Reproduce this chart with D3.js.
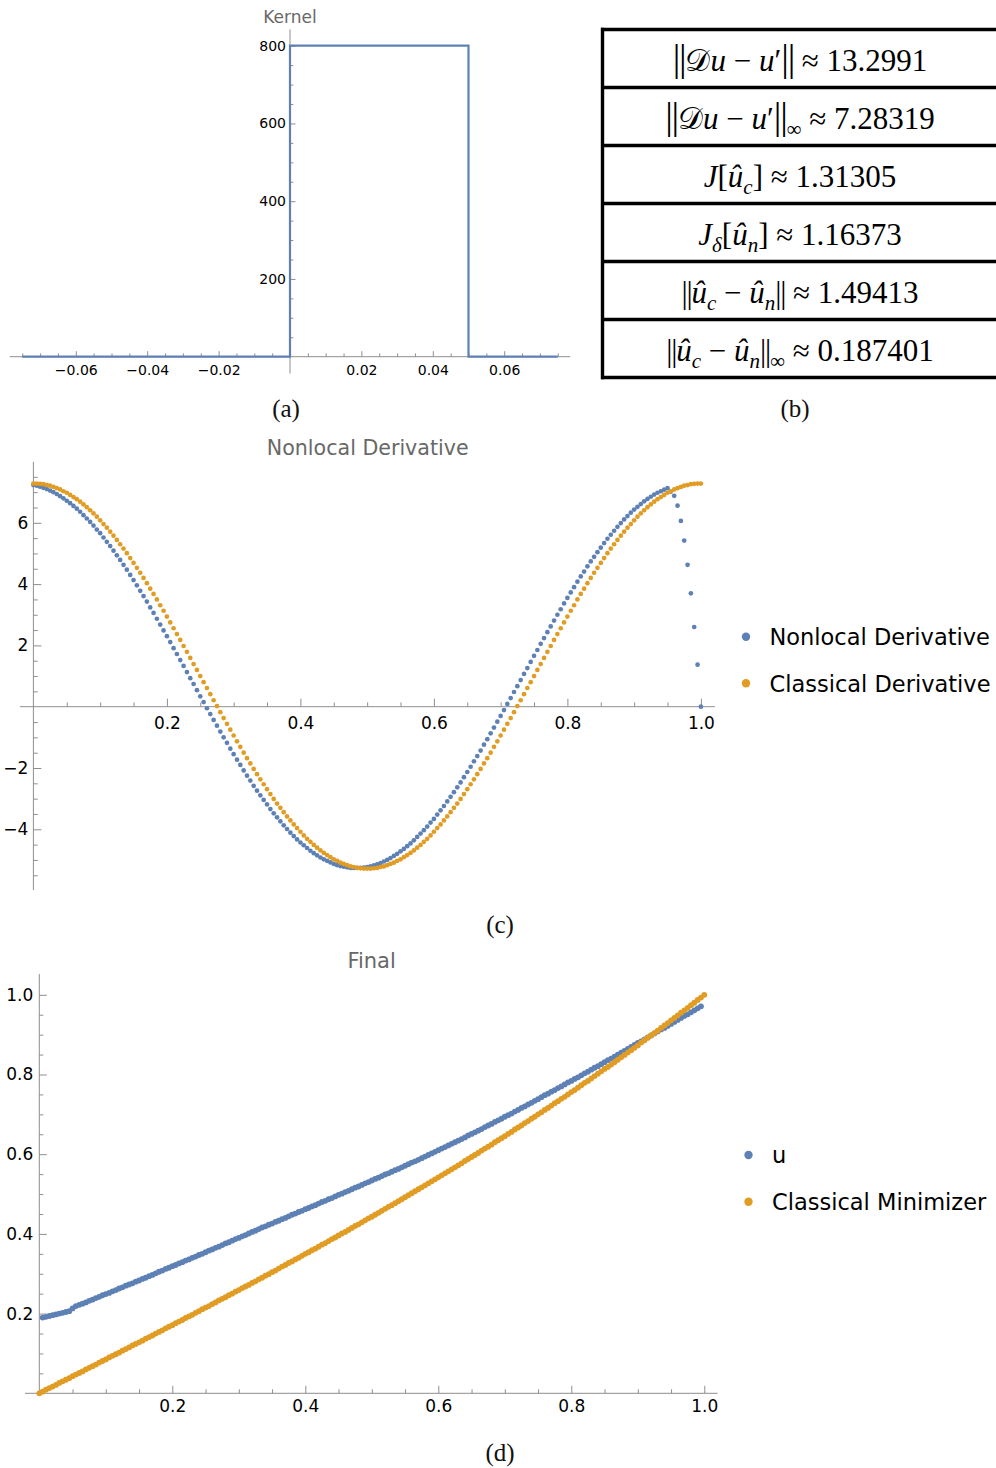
<!DOCTYPE html>
<html><head><meta charset="utf-8">
<script src="https://cdn.jsdelivr.net/npm/d3@7"></script>
<style>
html,body{margin:0;padding:0;background:#fff;}
svg{display:block;}
</style></head>
<body>
<svg id="fig" width="996" height="1468"></svg>
<script>
// ---------- data ----------
// (a) step kernel
const kernelX = [-0.075, 0, 0, 0.05, 0.05, 0.075];
const kernelY = [0, 0, 800, 800, 0, 0];
const kernelXTicks = [-0.06, -0.04, -0.02, 0.02, 0.04, 0.06];
const kernelYTicks = [200, 400, 600, 800];

// (b) error table
const tableValues = ['13.2991', '7.28319', '1.31305', '1.16373', '1.49413', '0.187401'];

// shared sample grid on [0,1]
const gridX = d3.range(201).map(i => i / 200);

// (c) derivatives
const derivSeries = ['Nonlocal Derivative', 'Classical Derivative'];
const nonlocalDeriv = [
7.23,7.21,7.18,7.14,7.10,7.05,7.00,6.94,6.87,6.80,
6.72,6.64,6.55,6.46,6.36,6.25,6.14,6.03,5.91,5.78,
5.66,5.52,5.38,5.24,5.09,4.94,4.79,4.63,4.47,4.30,
4.13,3.96,3.78,3.61,3.43,3.24,3.06,2.87,2.68,2.49,
2.30,2.11,1.91,1.72,1.52,1.33,1.13,0.93,0.74,0.54,
0.34,0.15,-0.05,-0.24,-0.43,-0.62,-0.81,-1.00,-1.18,-1.37,
-1.55,-1.73,-1.90,-2.08,-2.25,-2.41,-2.58,-2.74,-2.89,-3.04,
-3.19,-3.34,-3.48,-3.61,-3.74,-3.87,-3.99,-4.11,-4.22,-4.33,
-4.43,-4.52,-4.61,-4.70,-4.78,-4.85,-4.92,-4.98,-5.03,-5.08,
-5.13,-5.17,-5.20,-5.22,-5.24,-5.26,-5.26,-5.26,-5.26,-5.25,
-5.23,-5.21,-5.18,-5.14,-5.10,-5.05,-5.00,-4.94,-4.87,-4.80,
-4.72,-4.64,-4.55,-4.46,-4.36,-4.25,-4.14,-4.03,-3.91,-3.78,
-3.66,-3.52,-3.38,-3.24,-3.09,-2.94,-2.79,-2.63,-2.47,-2.30,
-2.13,-1.96,-1.78,-1.61,-1.43,-1.24,-1.06,-0.87,-0.68,-0.49,
-0.30,-0.11,0.09,0.28,0.48,0.67,0.87,1.07,1.26,1.46,
1.66,1.85,2.05,2.24,2.43,2.62,2.81,3.00,3.18,3.37,
3.55,3.73,3.90,4.08,4.25,4.41,4.58,4.74,4.89,5.04,
5.19,5.34,5.48,5.61,5.74,5.87,5.99,6.11,6.22,6.33,
6.43,6.52,6.61,6.70,6.78,6.85,6.92,6.98,7.03,7.08,
7.13,7.02,6.88,6.56,6.06,5.42,4.63,3.70,2.60,1.37,
0.00];
const classicalDeriv = [
7.28,7.28,7.27,7.26,7.23,7.21,7.17,7.13,7.09,7.03,
6.98,6.91,6.84,6.77,6.69,6.60,6.51,6.41,6.31,6.20,
6.08,5.96,5.84,5.71,5.58,5.44,5.30,5.16,5.01,4.85,
4.69,4.53,4.37,4.20,4.03,3.85,3.68,3.50,3.31,3.13,
2.94,2.75,2.56,2.37,2.18,1.98,1.79,1.59,1.39,1.20,
1.00,0.80,0.61,0.41,0.21,0.02,-0.18,-0.37,-0.56,-0.75,
-0.94,-1.13,-1.31,-1.50,-1.68,-1.85,-2.03,-2.20,-2.37,-2.53,
-2.69,-2.85,-3.01,-3.16,-3.30,-3.44,-3.58,-3.71,-3.84,-3.96,
-4.08,-4.20,-4.31,-4.41,-4.51,-4.60,-4.69,-4.77,-4.84,-4.91,
-4.98,-5.03,-5.09,-5.13,-5.17,-5.21,-5.23,-5.26,-5.27,-5.28,
-5.28,
-5.28,-5.27,-5.26,-5.23,-5.21,-5.17,-5.13,-5.09,-5.03,-4.98,
-4.91,-4.84,-4.77,-4.69,-4.60,-4.51,-4.41,-4.31,-4.20,-4.08,
-3.96,-3.84,-3.71,-3.58,-3.44,-3.30,-3.16,-3.01,-2.85,-2.69,
-2.53,-2.37,-2.20,-2.03,-1.85,-1.68,-1.50,-1.31,-1.13,-0.94,
-0.75,-0.56,-0.37,-0.18,0.02,0.21,0.41,0.61,0.80,1.00,
1.20,1.39,1.59,1.79,1.98,2.18,2.37,2.56,2.75,2.94,
3.13,3.31,3.50,3.68,3.85,4.03,4.20,4.37,4.53,4.69,
4.85,5.01,5.16,5.30,5.44,5.58,5.71,5.84,5.96,6.08,
6.20,6.31,6.41,6.51,6.60,6.69,6.77,6.84,6.91,6.98,
7.03,7.09,7.13,7.17,7.21,7.23,7.26,7.27,7.28,7.28];
const derivXTicks = [0.2, 0.4, 0.6, 0.8, 1.0];
const derivYTicks = [-4, -2, 2, 4, 6];

// (d) final states: nonlocal u on interior nodes, classical minimizer on all nodes
const finalSeries = ['u', 'Classical Minimizer'];
const uNonlocal = [
0.190,0.192,0.194,0.196,0.198,0.200,0.202,0.204,0.206,0.213,0.219,0.222,
0.225,0.228,0.232,0.235,0.239,0.242,0.246,0.249,0.252,0.256,0.259,0.263,0.266,0.270,
0.273,0.276,0.280,0.283,0.287,0.290,0.294,0.297,0.301,0.305,0.308,0.312,0.315,0.319,
0.322,0.326,0.329,0.333,0.336,0.340,0.343,0.347,0.350,0.354,
0.358,0.361,0.365,0.368,0.372,0.376,0.379,0.383,0.387,0.390,
0.394,0.397,0.401,0.405,0.408,0.412,0.416,0.419,0.423,0.426,
0.430,0.433,0.437,0.440,0.444,0.448,0.451,0.455,0.458,0.462,
0.465,0.469,0.472,0.476,0.480,0.483,0.487,0.490,0.494,0.498,
0.501,0.505,0.508,0.512,0.516,0.519,0.523,0.527,0.530,0.534,
0.538,0.541,0.545,0.549,0.552,0.556,0.560,0.563,0.567,0.571,
0.575,0.579,0.582,0.586,0.590,0.594,0.598,0.602,0.606,0.610,
0.614,0.618,0.622,0.626,0.630,0.634,0.638,0.642,0.647,0.651,
0.655,0.659,0.663,0.668,0.672,0.676,0.681,0.685,0.689,0.694,
0.698,0.702,0.707,0.711,0.716,0.720,0.725,0.729,0.734,0.738,
0.743,0.748,0.752,0.757,0.761,0.766,0.770,0.775,0.780,0.784,
0.789,0.793,0.798,0.803,0.807,0.812,0.817,0.821,0.826,0.831,
0.836,0.840,0.845,0.850,0.855,0.859,0.864,0.869,0.874,0.879,
0.883,0.888,0.893,0.898,0.903,0.908,0.913,0.917,0.922,0.927,
0.932,0.937,0.942,0.947,0.951,0.956,0.961,0.966,0.971];
const uClassical = [
0.000,0.004,0.009,0.013,0.017,0.021,0.026,0.030,0.034,0.038,0.043,
0.047,0.051,0.055,0.060,0.064,0.068,0.072,0.077,0.081,0.085,
0.090,0.094,0.098,0.102,0.107,0.111,0.115,0.120,0.124,0.128,
0.132,0.137,0.141,0.145,0.150,0.154,0.158,0.163,0.167,0.171,
0.176,0.180,0.184,0.189,0.193,0.197,0.202,0.206,0.211,0.215,
0.219,0.224,0.228,0.233,0.237,0.241,0.246,0.250,0.255,0.259,
0.264,0.268,0.272,0.277,0.281,0.286,0.290,0.295,0.299,0.304,
0.308,0.313,0.318,0.322,0.327,0.331,0.336,0.340,0.345,0.350,
0.354,0.359,0.363,0.368,0.373,0.377,0.382,0.387,0.391,0.396,
0.401,0.405,0.410,0.415,0.420,0.424,0.429,0.434,0.439,0.443,
0.448,0.453,0.458,0.463,0.468,0.472,0.477,0.482,0.487,0.492,
0.497,0.502,0.507,0.512,0.517,0.522,0.527,0.532,0.537,0.542,
0.547,0.552,0.557,0.562,0.567,0.572,0.577,0.583,0.588,0.593,
0.598,0.603,0.609,0.614,0.619,0.624,0.630,0.635,0.640,0.645,
0.651,0.656,0.662,0.667,0.672,0.678,0.683,0.689,0.694,0.700,
0.705,0.711,0.716,0.722,0.728,0.733,0.739,0.744,0.750,0.756,
0.761,0.767,0.773,0.779,0.784,0.790,0.796,0.802,0.808,0.814,
0.819,0.825,0.831,0.837,0.843,0.849,0.855,0.861,0.867,0.873,
0.880,0.886,0.892,0.898,0.904,0.910,0.917,0.923,0.929,0.936,
0.942,0.948,0.955,0.961,0.967,0.974,0.980,0.987,0.993,1.000];
const finalXTicks = [0.2, 0.4, 0.6, 0.8, 1.0];
const finalYTicks = [0.2, 0.4, 0.6, 0.8, 1.0];

// ---------- style ----------
const BLUE = '#5E81B5', ORANGE = '#E19C24';
const AXIS = '#8e8e8e';
const SANS = "'DejaVu Sans', 'Liberation Sans', sans-serif";
const SERIF = "'Liberation Serif', 'DejaVu Serif', serif";

const svg = d3.select('#fig');
svg.append('rect').attr('width', 996).attr('height', 1468).attr('fill', '#fff');

function minorTicks(lo, hi, step, majors) {
  return d3.range(Math.round(lo / step), Math.round(hi / step) + 1)
    .map(i => +(i * step).toFixed(6))
    .filter(v => v !== 0 && !majors.some(m => Math.abs(m - v) < 1e-9));
}

function drawAxes(g, sx, sy, c) {
  g.append('line').attr('x1', sx(c.xExt[0])).attr('x2', sx(c.xExt[1]))
    .attr('y1', sy(0)).attr('y2', sy(0)).attr('stroke', AXIS);
  g.append('line').attr('x1', sx(0)).attr('x2', sx(0))
    .attr('y1', sy(c.yExt[0])).attr('y2', sy(c.yExt[1])).attr('stroke', AXIS);
  const gx = g.append('g').attr('transform', `translate(0,${sy(0)})`);
  gx.append('g').call(d3.axisBottom(sx).tickValues(c.xMinor).tickSizeInner(-c.minLen).tickSizeOuter(0).tickFormat(() => ''));
  gx.append('g').call(d3.axisBottom(sx).tickValues(c.xMajor).tickSizeInner(-c.majLen).tickSizeOuter(0).tickPadding(c.padX).tickFormat(c.fmtX));
  const gy = g.append('g').attr('transform', `translate(${sx(0)},0)`);
  gy.append('g').call(d3.axisLeft(sy).tickValues(c.yMinor).tickSizeInner(-c.minLen).tickSizeOuter(0).tickFormat(() => ''));
  gy.append('g').call(d3.axisLeft(sy).tickValues(c.yMajor).tickSizeInner(-c.majLen).tickSizeOuter(0).tickPadding(c.padY).tickFormat(c.fmtY));
  g.selectAll('.domain').remove();
  g.selectAll('.tick line').attr('stroke', AXIS);
  g.selectAll('.tick text').attr('fill', '#000').attr('font-family', SANS).attr('font-size', c.fs);
}

function title(txt, x, y, fs) {
  svg.append('text').attr('x', x).attr('y', y).attr('text-anchor', 'middle')
    .attr('font-family', SANS).attr('font-size', fs).attr('fill', '#686868').text(txt);
}

function panelLabel(txt, x, y) {
  svg.append('text').attr('x', x).attr('y', y).attr('text-anchor', 'middle')
    .attr('font-family', SERIF).attr('font-size', 25).attr('fill', '#111').text(txt);
}

function legend(names, colors, x, y0, gap) {
  names.forEach((n, i) => {
    svg.append('circle').attr('cx', x).attr('cy', y0 + i * gap).attr('r', 4.2).attr('fill', colors[i]);
    svg.append('text').attr('x', x + 23.5).attr('y', y0 + i * gap + 8.2)
      .attr('font-family', SANS).attr('font-size', 22.5).attr('fill', '#000').text(n);
  });
}

// ---------- (a) Kernel ----------
const xK = d3.scaleLinear().domain([-0.075, 0.075]).range([22.25, 557.75]);
const yK = d3.scaleLinear().domain([0, 800]).range([356.7, 45.7]);
const gK = svg.append('g');
drawAxes(gK, xK, yK, {
  xExt: [-0.0785, 0.0785], yExt: [-43, 842],
  xMajor: kernelXTicks, xMinor: minorTicks(-0.075, 0.075, 0.005, kernelXTicks),
  yMajor: kernelYTicks, yMinor: minorTicks(50, 800, 50, kernelYTicks),
  majLen: 5.5, minLen: 3.3, padX: 8, padY: 4, fs: 14,
  fmtX: d3.format('.2f'), fmtY: d3.format('d')
});
gK.append('path')
  .datum(kernelX.map((x, i) => [x, kernelY[i]]))
  .attr('d', d3.line().x(d => xK(d[0])).y(d => yK(d[1])))
  .attr('fill', 'none').attr('stroke', BLUE).attr('stroke-width', 2.2);
title('Kernel', 290, 23, 17);
panelLabel('(a)', 286, 417);

// ---------- (b) table ----------
const gT = svg.append('g');
const rowEdges = [29.5, 87.5, 145.5, 203.5, 261.5, 319.5, 377.5];
rowEdges.forEach(y => gT.append('line').attr('x1', 601).attr('x2', 996).attr('y1', y).attr('y2', y)
  .attr('stroke', '#000').attr('stroke-width', 3.4));
gT.append('line').attr('x1', 602.5).attr('x2', 602.5).attr('y1', 27.8).attr('y2', 379.2)
  .attr('stroke', '#000').attr('stroke-width', 3.4);

const BAR_BIG = { t: '||', bar: 38 }, BAR = { t: '||', bar: 31 };
const tableRows = [
  [BAR_BIG, { t: '𝒟' }, { t: 'u', i: 1 }, { t: ' − ' }, { t: 'u', i: 1 }, { t: '′' }, BAR_BIG],
  [BAR_BIG, { t: '𝒟' }, { t: 'u', i: 1 }, { t: ' − ' }, { t: 'u', i: 1 }, { t: '′' }, BAR_BIG, { t: '∞', sub: 1 }],
  [{ t: 'J', i: 1 }, { t: '[' }, { t: 'û', i: 1 }, { t: 'c', i: 1, sub: 1 }, { t: ']' }],
  [{ t: 'J', i: 1 }, { t: 'δ', i: 1, sub: 1 }, { t: '[' }, { t: 'û', i: 1 }, { t: 'n', i: 1, sub: 1 }, { t: ']' }],
  [BAR, { t: 'û', i: 1 }, { t: 'c', i: 1, sub: 1 }, { t: ' − ' }, { t: 'û', i: 1 }, { t: 'n', i: 1, sub: 1 }, BAR],
  [BAR, { t: 'û', i: 1 }, { t: 'c', i: 1, sub: 1 }, { t: ' − ' }, { t: 'û', i: 1 }, { t: 'n', i: 1, sub: 1 }, BAR, { t: '∞', sub: 1 }]
];
tableRows.forEach((segs, r) => {
  const t = gT.append('text').attr('x', 800).attr('y', rowEdges[r] + 41.5)
    .attr('text-anchor', 'middle').attr('font-family', SERIF).attr('font-size', 31).attr('fill', '#000');
  let shift = 0;
  const all = segs.concat([{ t: ' ≈ ' + tableValues[r] }]);
  all.forEach(s => {
    const ts = t.append('tspan').text(s.t);
    if (s.i) ts.attr('font-style', 'italic');
    if (s.bar) ts.attr('font-size', s.bar).attr('letter-spacing', -1.2);
    if (s.sub) { ts.attr('font-size', 21).attr('dy', 7 - shift); shift = 7; }
    else if (shift) { ts.attr('dy', -shift); shift = 0; }
  });
});
panelLabel('(b)', 795, 417);

// ---------- (c) Nonlocal Derivative ----------
const xC = d3.scaleLinear().domain([0, 1]).range([33.4, 700.9]);
const yC = d3.scaleLinear().domain([0, 6]).range([706.7, 522.8]);
const gC = svg.append('g');
drawAxes(gC, xC, yC, {
  xExt: [-0.02, 1.021], yExt: [-5.98, 7.99],
  xMajor: derivXTicks, xMinor: minorTicks(0.05, 1.0, 0.05, derivXTicks),
  yMajor: derivYTicks, yMinor: minorTicks(-5.5, 7.5, 0.5, derivYTicks),
  majLen: 8, minLen: 4.3, padX: 10.5, padY: 5, fs: 17,
  fmtX: d3.format('.1f'), fmtY: d3.format('d')
});
[[nonlocalDeriv, BLUE], [classicalDeriv, ORANGE]].forEach(([vals, col]) => {
  gC.append('g').selectAll('circle').data(vals).join('circle')
    .attr('cx', (d, i) => xC(gridX[i])).attr('cy', d => yC(d)).attr('r', 2.35).attr('fill', col);
});
title('Nonlocal Derivative', 367.7, 454.5, 20.6);
legend(derivSeries, [BLUE, ORANGE], 746, 636.7, 46.6);
panelLabel('(c)', 500, 933);

// ---------- (d) Final ----------
const xD = d3.scaleLinear().domain([0, 1]).range([39.3, 704.3]);
const yD = d3.scaleLinear().domain([0, 1]).range([1393.3, 994.8]);
const gD = svg.append('g');
drawAxes(gD, xD, yD, {
  xExt: [-0.0215, 1.02], yExt: [-0.004, 1.052],
  xMajor: finalXTicks, xMinor: minorTicks(0.05, 1.0, 0.05, finalXTicks),
  yMajor: finalYTicks, yMinor: minorTicks(0.05, 1.0, 0.05, finalYTicks),
  majLen: 7.5, minLen: 4, padX: 7, padY: 6, fs: 17,
  fmtX: d3.format('.1f'), fmtY: d3.format('.1f')
});
const gridInterior = gridX.slice(1, 200);
[[uNonlocal, gridInterior, BLUE], [uClassical, gridX, ORANGE]].forEach(([vals, xs, col]) => {
  gD.append('g').selectAll('circle').data(vals).join('circle')
    .attr('cx', (d, i) => xD(xs[i])).attr('cy', d => yD(d)).attr('r', 2.9).attr('fill', col);
});
title('Final', 371.6, 967.5, 21);
legend(finalSeries, [BLUE, ORANGE], 748.5, 1155, 46.7);
panelLabel('(d)', 500, 1461);
</script>
</body></html>
